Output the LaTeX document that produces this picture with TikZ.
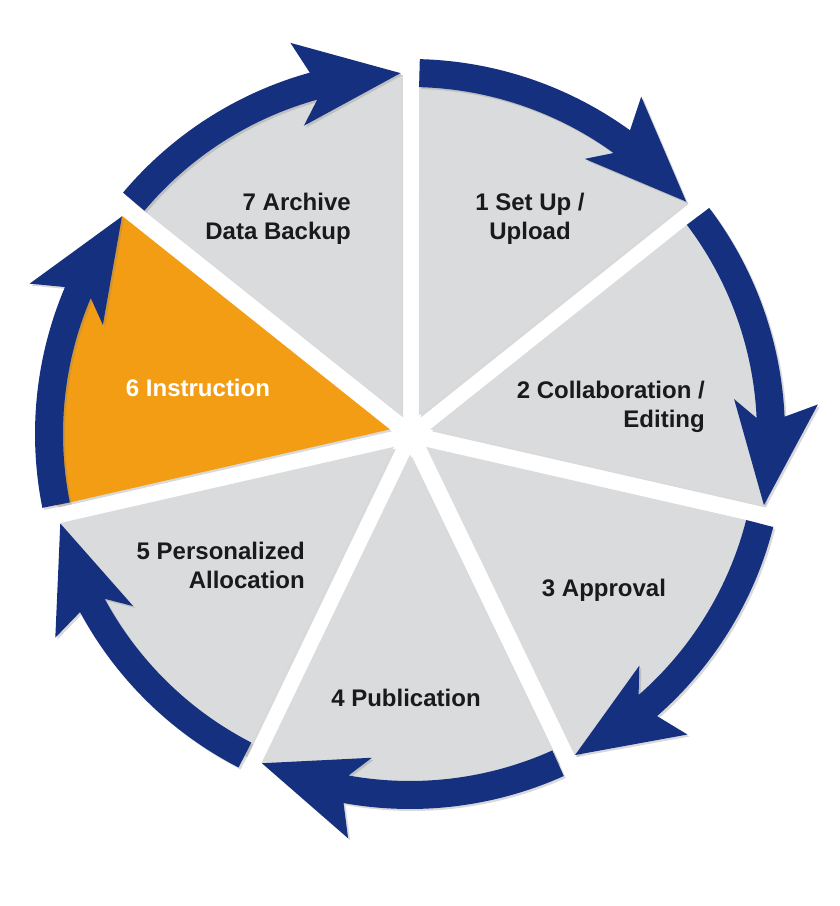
\documentclass[tikz,border=0pt]{standalone}
\usepackage{fontspec}
\setmainfont{Liberation Sans}
\usepackage{tikz}
\usetikzlibrary{shadows}

\definecolor{ringblue}{RGB}{22,48,128}
\definecolor{wedgegray}{RGB}{218,219,221}
\definecolor{wedgeorange}{RGB}{242,157,19}
\definecolor{labelink}{RGB}{26,26,26}

\tikzset{
	wedge/.style={fill=wedgegray, drop shadow={shadow xshift=2pt, shadow yshift=-2pt, opacity=0.3}},
	ringarrow/.style={fill=ringblue, drop shadow={shadow xshift=2pt, shadow yshift=-2pt, opacity=0.3}},
	steptext/.style={font=\fontsize{24}{29}\selectfont\bfseries, text=labelink, inner sep=0pt}
}

% #1 = gap angle before, #2 = gap angle after, #3 = fill
\newcommand{\cyclewedge}[3]{%
	\path[wedge, fill=#3] ({(#1+#2)/2}:20.7) -- ({#1-1.43}:361)
		arc[start angle=#1-1.43, end angle=#2+1.43, radius=361] -- cycle;}

% #1 = tail angle, #2 = tip angle (clockwise)
\newcommand{\cyclearrow}[2]{%
	\path[ringarrow] (#1:347) -- (#1:375)
		arc[start angle=#1, end angle=#2+14, radius=375]
		-- ({#2+15.5}:409) -- (#2:361) -- ({#2+17.5}:326) -- ({#2+14}:347)
		arc[start angle=#2+14, end angle=#1, radius=347] -- cycle;}

\begin{document}
\begin{tikzpicture}[x=1pt, y=1pt]
				\useasboundingbox (0,0) rectangle (840,906);
				
				\begin{scope}[shift={(410,472)}]
					% Wedges
					\cyclewedge{90}{38.5714}{wedgegray}
					\cyclewedge{38.5714}{-12.8571}{wedgegray}
					\cyclewedge{-12.8571}{-64.2857}{wedgegray}
					\cyclewedge{-64.2857}{-115.7143}{wedgegray}
					\cyclewedge{-115.7143}{-167.1429}{wedgegray}
					\cyclewedge{-167.1429}{-218.5714}{wedgeorange}
					\cyclewedge{-218.5714}{-270}{wedgegray}
					
					% Arrows round the ring
					\cyclearrow{88.5}{40.07}
					\cyclearrow{37.07}{-11.36}
					\cyclearrow{-14.36}{-62.79}
					\cyclearrow{-65.79}{-114.21}
					\cyclearrow{-117.21}{-165.64}
					\cyclearrow{-168.64}{-217.07}
					\cyclearrow{-220.07}{-268.5}
				\end{scope}
				
				% Labels
				\node[steptext, align=center] (setup) at (530, 687) {1 Set Up /\\Upload};
				\node[steptext, align=right, anchor=east] (collab) at (705, 499) {2 Collaboration /\\Editing};
				\node[steptext] (approval) at (604, 316) {3 Approval};
				\node[steptext] (publication) at (406, 208) {4 Publication};
				\node[steptext, align=right, anchor=east] (allocation) at (305, 341) {5 Personalized\\Allocation};
				\node[steptext, text=white] (instruction) at (198, 518) {6 Instruction};
				\node[steptext, align=right, anchor=east] (archive) at (351, 687) {7 Archive\\Data Backup};
\end{tikzpicture}
\end{document}
